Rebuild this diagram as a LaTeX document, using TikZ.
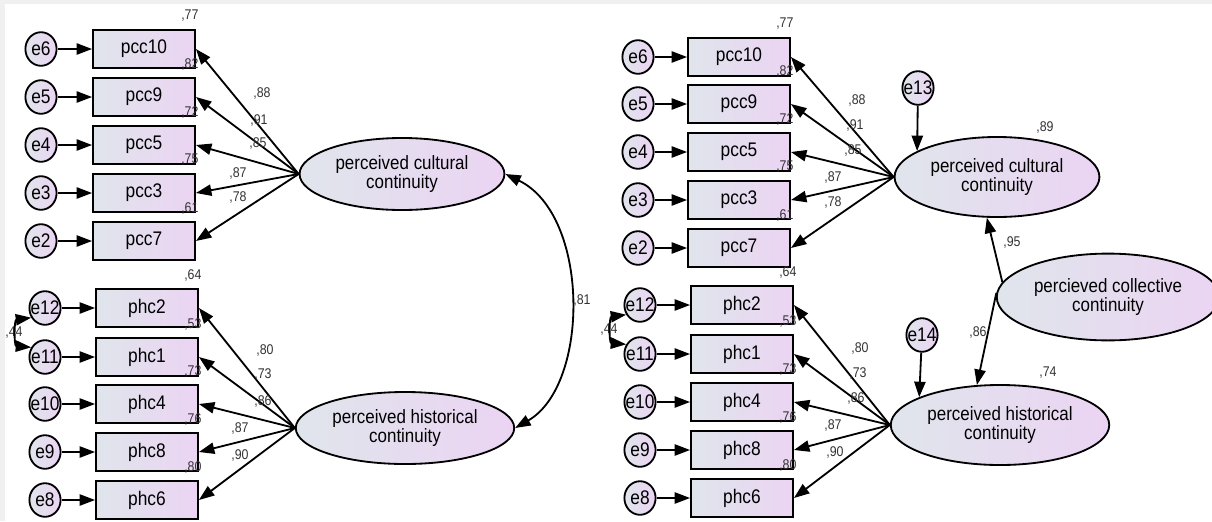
\documentclass[tikz,border=0pt]{standalone}
\usepackage{fontspec}
\setmainfont{Liberation Sans}[FakeStretch=0.88]
\usetikzlibrary{arrows.meta,shapes.geometric}
\definecolor{fillL}{RGB}{224,229,236}
\definecolor{fillR}{RGB}{235,212,243}
\begin{document}
\begin{tikzpicture}[x=0.025cm,y=-0.025cm,line width=1.3pt,
    >={Triangle[length=11pt,width=8pt]},
    obs/.style={draw,rectangle,left color=fillL,right color=fillR,
        minimum width=2.55cm,minimum height=0.97cm,font=\fontsize{14}{14.2}\selectfont},
    err/.style={draw,ellipse,left color=fillL,right color=fillR,inner sep=0pt,
        minimum width=0.78cm,minimum height=0.84cm,font=\fontsize{14}{14.2}\selectfont},
    lat/.style={draw,ellipse,left color=fillL,right color=fillR,align=center,
        minimum width=5.12cm,minimum height=1.8cm,font=\fontsize{13.7}{14.2}\selectfont},
    est/.style={text=black!80,inner sep=0pt,font=\fontsize{10}{12}\selectfont}]
    \useasboundingbox (0,0) rectangle (1212,521);
    \fill[black!6] (0,0) rectangle (1212,521);
    \fill[white] (5,4) rectangle (1212,521);

    % left model: two correlated factors
    \foreach \y/\item/\e [count=\k] in {49/pcc10/e6,97/pcc9/e5,145/pcc5/e4,193/pcc3/e3,241/pcc7/e2}{
            \node[err] (aE\k) at (41,\y) {\makebox[0pt]{\e}};
            \node[obs] (aO\k) at (144,\y) {\item};
            \draw[->] (aE\k) -- (aO\k);
        }
    \foreach \y/\item/\e [count=\k] in {308/phc2/e12,357/phc1/e11,404/phc4/e10,452/phc8/e9,500/phc6/e8}{
            \node[err] (bE\k) at (45,\y) {\makebox[0pt]{\e}};
            \node[obs] (bO\k) at (147,\y) {\item};
            \draw[->] (bE\k) -- (bO\k);
        }
    \node[lat] (aC) at (402,174) {perceived cultural\\continuity};
    \node[lat] (aH) at (405,428) {perceived historical\\continuity};

    \foreach \k/\v/\lx/\ly in {1/88/262/93,2/91/259/120,3/85/258/143,4/87/238/173,5/78/238/197}{
            \draw[->] (aC.west) -- (aO\k.east);
            \node[est] (aL\k) at (\lx,\ly) {,\v};
        }
    \foreach \k/\v/\lx/\ly in {1/80/265/350,2/73/263/374,3/86/263/401,4/87/240/428,5/90/240/455}{
            \draw[->] (aH.west) -- (bO\k.east);
            \node[est] (bL\k) at (\lx,\ly) {,\v};
        }
    \foreach \k/\v in {1/77,2/82,3/72,4/75,5/61}{
            \node[est] (aS\k) at ([xshift=-4.3pt,yshift=9pt]aO\k.north east) {,\v};
        }
    \foreach \k/\v in {1/64,2/53,3/73,4/76,5/80}{
            \node[est] (bS\k) at ([xshift=-4.3pt,yshift=9pt]bO\k.north east) {,\v};
        }

    \node[est] (bCov) at (14,333) {,44};
    \draw[<->] (bE1.215) .. controls (14,320) and (14,346) .. (bE2.145);
    \draw[<->] (aC.east) .. controls (590,215) and (590,385) .. (aH.east);
    \node[est] (aCov) at (582,300) {,81};

    % right model: second order factor
    \foreach \y/\item/\e [count=\k] in {57/pcc10/e6,104/pcc9/e5,152/pcc5/e4,200/pcc3/e3,248/pcc7/e2}{
            \node[err] (cE\k) at (638,\y) {\makebox[0pt]{\e}};
            \node[obs] (cO\k) at (739,\y) {\item};
            \draw[->] (cE\k) -- (cO\k);
        }
    \foreach \y/\item/\e [count=\k] in {305/phc2/e12,354/phc1/e11,402/phc4/e10,450/phc8/e9,498/phc6/e8}{
            \node[err] (dE\k) at (640,\y) {\makebox[0pt]{\e}};
            \node[obs] (dO\k) at (742,\y) {\item};
            \draw[->] (dE\k) -- (dO\k);
        }
    \node[lat,minimum height=2cm] (cC) at (997,177) {perceived cultural\\continuity};
    \node[lat,minimum height=2cm] (cH) at (1000,425) {perceived historical\\continuity};
    \node[lat,minimum width=5.17cm,minimum height=2.17cm] (cP) at (1108,297) {percieved collective\\continuity};

    \foreach \k/\v/\lx/\ly in {1/88/857/100,2/91/855/125,3/85/853/150,4/87/833/177,5/78/833/202}{
            \draw[->] (cC.west) -- (cO\k.east);
            \node[est] (cL\k) at (\lx,\ly) {,\v};
        }
    \foreach \k/\v/\lx/\ly in {1/80/860/348,2/73/858/373,3/86/856/398,4/87/833/425,5/90/835/452}{
            \draw[->] (cH.west) -- (dO\k.east);
            \node[est] (dL\k) at (\lx,\ly) {,\v};
        }
    \foreach \k/\v in {1/77,2/82,3/72,4/75,5/61}{
            \node[est] (cS\k) at ([xshift=-4.3pt,yshift=9pt]cO\k.north east) {,\v};
        }
    \foreach \k/\v in {1/64,2/53,3/73,4/76,5/80}{
            \node[est] (dS\k) at ([xshift=-4.3pt,yshift=9pt]dO\k.north east) {,\v};
        }

    \node[est] (dCov) at (609,330) {,44};
    \draw[<->] (dE1.215) .. controls (609,317) and (609,343) .. (dE2.145);

    \node[err] (e13) at (918,88) {\makebox[0pt]{e13}};
    \node[err] (e14) at (922,335) {\makebox[0pt]{e14}};
    \draw[->] (e13) -- (cC.162);
    \draw[->] (e14) -- (cH.161);
    \draw[->] (cP.172) -- (cC.256);
    \draw[->] (cP.178) -- (cH.120);
    \node[est] (cR) at (1045,127) {,89};
    \node[est] (hR) at (1048,373) {,74};
    \node[est] (pC) at (1012,242) {,95};
    \node[est] (pH) at (978,332) {,86};
\end{tikzpicture}
\end{document}
